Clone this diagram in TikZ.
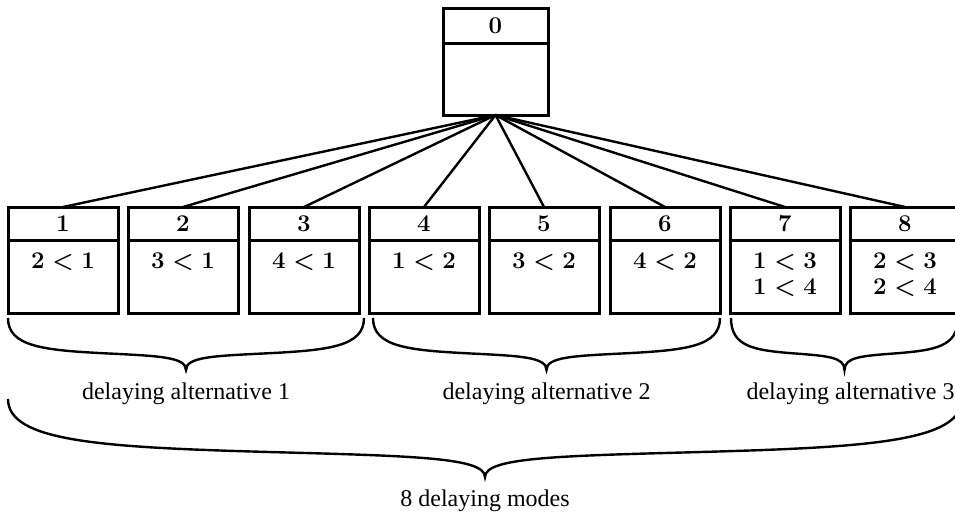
\documentclass[tikz,border=0pt]{standalone}
\usepackage{fontspec}
\newfontfamily\labelfont{Liberation Serif}
\usetikzlibrary{positioning,calc}

% curly brace in a unit box, tip at (.5,1); scale it when placing
\tikzset{
  modebrace/.pic={
    \draw[line width=1.2pt] (0,0) .. controls (0,.55) and (.1,.62) .. (.275,.68)
      .. controls (.425,.73) and (.5,.75) .. (.5,1)
      .. controls (.5,.75) and (.575,.73) .. (.725,.68)
      .. controls (.9,.62) and (1,.55) .. (1,0);
    \coordinate (-tip) at (.5,1);
  }
}

\begin{document}
\begin{tikzpicture}[x=0.5pt, y=-0.5pt,
  head/.style={draw, line width=1.5pt, minimum width=55pt, minimum height=16.5pt,
    inner sep=0pt, outer sep=0pt, font=\fontsize{12}{14}\selectfont\bfseries},
  body/.style={draw, line width=1.5pt, minimum width=55pt, minimum height=36.5pt,
    inner sep=0pt, outer sep=0pt, below=0pt of #1},
  rel/.style={font=\fontsize{11.5}{13}\selectfont\bfseries\boldmath, align=center},
  tag/.style={font=\labelfont\fontsize{12}{14}\selectfont, below=3pt of #1},
  link/.style={line width=1.2pt}]

  \clip (0,0) rectangle (955,515);

  % root
  \node[head, minimum width=52.5pt, minimum height=17.5pt] at (495.5, 25.5) (h0) {0};
  \node[body=h0, minimum width=52.5pt, minimum height=36pt] (b0) {};

  % the eight modes
  \node[head] at (63, 223.5)  (h1) {1};
  \node[head] at (183, 223.5) (h2) {2};
  \node[head] at (304, 223.5) (h3) {3};
  \node[head] at (424, 223.5) (h4) {4};
  \node[head] at (544, 223.5) (h5) {5};
  \node[head] at (665, 223.5) (h6) {6};
  \node[head] at (785, 223.5) (h7) {7};
  \node[head] at (905, 223.5) (h8) {8};

  \node[body=h1] (b1) {};
  \node[body=h2] (b2) {};
  \node[body=h3] (b3) {};
  \node[body=h4] (b4) {};
  \node[body=h5] (b5) {};
  \node[body=h6] (b6) {};
  \node[body=h7] (b7) {};
  \node[body=h8] (b8) {};

  \node[rel, below=3pt of h1] (r1) {$2<1$};
  \node[rel, below=3pt of h2] (r2) {$3<1$};
  \node[rel, below=3pt of h3] (r3) {$4<1$};
  \node[rel, below=3pt of h4] (r4) {$1<2$};
  \node[rel, below=3pt of h5] (r5) {$3<2$};
  \node[rel, below=3pt of h6] (r6) {$4<2$};
  \node[rel, below=3pt of h7] (r7) {$1<3$\\$1<4$};
  \node[rel, below=3pt of h8] (r8) {$2<3$\\$2<4$};

  \draw[link] (b0.south) -- (h1.north);
  \draw[link] (b0.south) -- (h2.north);
  \draw[link] (b0.south) -- (h3.north);
  \draw[link] (b0.south) -- (h4.north);
  \draw[link] (b0.south) -- (h5.north);
  \draw[link] (b0.south) -- (h6.north);
  \draw[link] (b0.south) -- (h7.north);
  \draw[link] (b0.south) -- (h8.north);

  % braces and their labels
  \pic[xscale=356, yscale=52] (br1) at (8, 318)   {modebrace};
  \pic[xscale=347, yscale=52] (br2) at (373, 318) {modebrace};
  \pic[xscale=227, yscale=52] (br3) at (731, 318) {modebrace};
  \pic[xscale=954, yscale=78] (brall) at (8, 399) {modebrace};

  \node[tag=br1-tip] (alt1) {delaying alternative 1};
  \node[tag=br2-tip] (alt2) {delaying alternative 2};
  \node[tag=br3-tip, xshift=3pt] (alt3) {delaying alternative 3};
  \node[tag=brall-tip] (modes) {8 delaying modes};

\end{tikzpicture}
\end{document}
